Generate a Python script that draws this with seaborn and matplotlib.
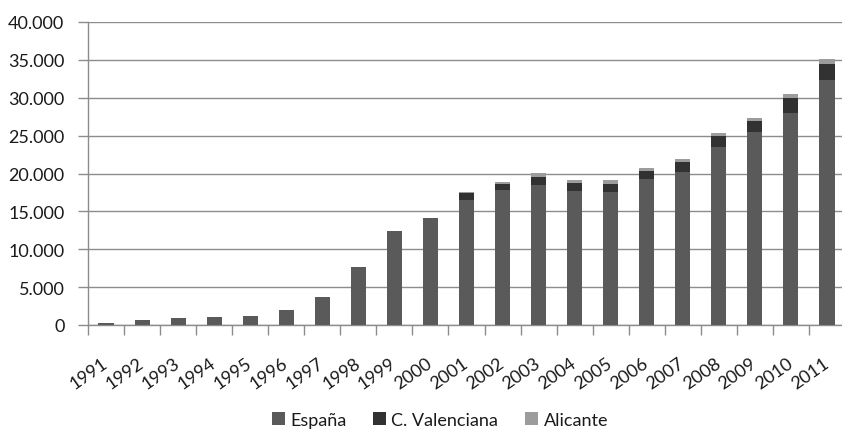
import numpy as np
import pandas as pd
import matplotlib
matplotlib.use("Agg")
import matplotlib.pyplot as plt
from matplotlib.patches import Patch
from matplotlib.ticker import FuncFormatter, MultipleLocator
import seaborn as sns

years = [str(y) for y in range(1991, 2012)]
espana = [310, 620, 880, 1060, 1190, 2030, 3740, 7700, 12400, 14100,
          16540, 17800, 18530, 17690, 17560, 19230, 20250, 23530, 25420, 27940, 32360]
c_valenciana = [0, 0, 0, 0, 0, 0, 0, 0, 0, 0,
                830, 860, 1020, 1100, 1100, 1160, 1290, 1400, 1500, 1990, 2120]
alicante = [0, 0, 0, 0, 0, 0, 0, 0, 0, 0,
            190, 230, 530, 310, 440, 390, 440, 450, 450, 570, 620]
series_names = ["España", "C. Valenciana", "Alicante"]
colors = ["#5a5a5a", "#323232", "#9c9c9c"]

sns.set_theme(style="white")
plt.rcParams["font.family"] = ["Lato", "DejaVu Sans"]

df = pd.DataFrame({
    "year": years,
    "espana": espana,
    "cv": c_valenciana,
    "alicante": alicante,
})
df["lvl1"] = df["espana"]
df["lvl2"] = df["lvl1"] + df["cv"]
df["lvl3"] = df["lvl2"] + df["alicante"]

W, H = 842, 431
fig = plt.figure(figsize=(W / 100, H / 100), dpi=100)
ax = fig.add_axes([88 / W, (H - 326) / H, 757 / W, 303 / H])

# stacked bars: draw cumulative totals from the top segment down
for col, color in zip(["lvl3", "lvl2", "lvl1"], [colors[2], colors[1], colors[0]]):
    sns.barplot(data=df, x="year", y=col, color=color, width=0.42,
                saturation=1, ax=ax, zorder=3, linewidth=0)

ax.set_ylim(0, 40000)
ax.set_xlim(-0.5, len(years) - 0.5)
ax.yaxis.set_major_locator(MultipleLocator(5000))
ax.yaxis.set_major_formatter(FuncFormatter(lambda v, p: f"{int(v):,}".replace(",", ".")))
ax.grid(axis="y", color="#8c8c8c", linewidth=1.0, zorder=0)
ax.set_axisbelow(True)

for side in ["top", "right"]:
    ax.spines[side].set_visible(False)
for side in ["left", "bottom"]:
    ax.spines[side].set_color("#8c8c8c")
    ax.spines[side].set_linewidth(1.0)

ax.set_xlabel("")
ax.set_ylabel("")
ax.tick_params(axis="y", which="major", length=7, width=1, color="#8c8c8c",
               pad=10, labelsize=13, labelcolor="#1a1a1a", left=True)
ax.set_xticks(np.arange(-0.5, len(years), 1.0), minor=True)
ax.tick_params(axis="x", which="minor", length=7, width=1, color="#8c8c8c", bottom=True)
ax.tick_params(axis="x", which="major", length=0, pad=26, labelsize=13,
               labelcolor="#1a1a1a")
for lbl in ax.get_xticklabels():
    lbl.set_rotation(35)
    lbl.set_rotation_mode("anchor")
    lbl.set_ha("right")
    lbl.set_va("center")

handles = [Patch(facecolor=c, edgecolor="none") for c in colors]
fig.legend(handles, series_names, loc="center", bbox_to_anchor=(440 / W, 1 - 421 / H),
           ncol=3, frameon=False, fontsize=13, handlelength=0.7, handleheight=0.7,
           handletextpad=0.3, columnspacing=1.5, labelcolor="#1a1a1a")

fig.savefig("out.png", dpi=100)
